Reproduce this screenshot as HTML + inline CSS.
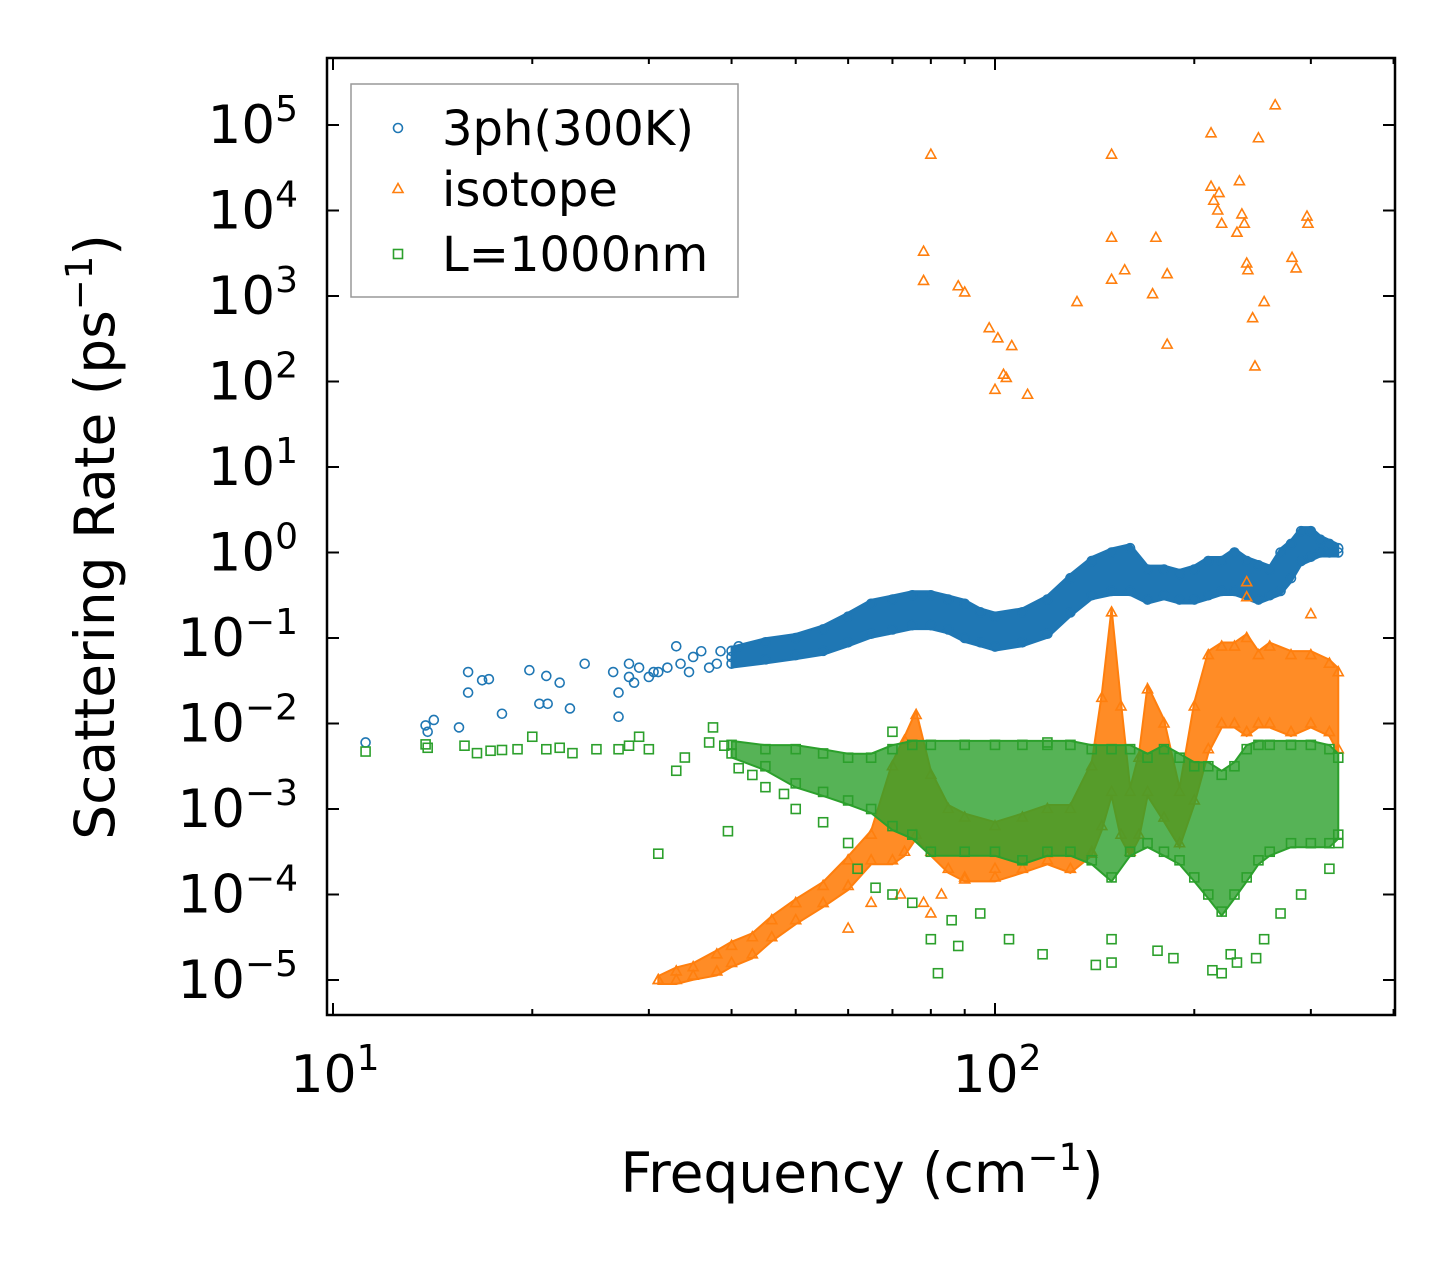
<!DOCTYPE html>
<html><head><meta charset="utf-8"><style>
body{margin:0;background:#fff;}
svg text{font-family:"DejaVu Sans","Liberation Sans",sans-serif;fill:#000;}
</style></head><body>
<svg id="chart" width="1455" height="1265" viewBox="0 0 1455 1265">
<g id="plot"></g>
</svg>
<script>
// ===== data (frequency in cm^-1, rates in log10 ps^-1 for bands) =====
const blueBandFreq=[40,45,50,55,60,65,70,75,80,85,90,95,100,110,120,130,140,150,160,170,180,190,200,210,220,230,240,250,260,270,280,290,300,310,320,330];
const blueBandHi=[-1.15,-1.05,-1,-0.9,-0.75,-0.6,-0.55,-0.5,-0.5,-0.55,-0.6,-0.7,-0.75,-0.7,-0.55,-0.3,-0.1,0,0.05,-0.2,-0.2,-0.25,-0.2,-0.1,-0.1,0,-0.1,-0.15,-0.2,0,0.1,0.25,0.25,0.15,0.1,0.05];
const blueBandLo=[-1.3,-1.25,-1.2,-1.15,-1.05,-0.95,-0.9,-0.85,-0.85,-0.9,-1.0,-1.05,-1.1,-1.05,-0.95,-0.7,-0.5,-0.45,-0.45,-0.55,-0.5,-0.55,-0.55,-0.5,-0.45,-0.45,-0.5,-0.55,-0.5,-0.45,-0.3,-0.1,-0.05,0,0,0];
const blueFreq=[11.2,13.8,13.9,14.2,15.5,16,16,16.8,17.2,18,19.8,20.5,21,21.1,22,22.8,24,26.5,27,27,28,28.5,28,29,30,30.5,31,32,33,33.5,34.5,35,36,37,38,38.5,40,41];
const blueRate=[0.006,0.0095,0.008,0.011,0.009,0.04,0.023,0.032,0.033,0.013,0.042,0.017,0.036,0.017,0.03,0.015,0.05,0.04,0.012,0.023,0.05,0.03,0.035,0.045,0.035,0.04,0.04,0.045,0.08,0.05,0.04,0.06,0.07,0.045,0.05,0.07,0.06,0.08];

const orangeBandFreq=[31,33,35,38,40,43,46,50,55,60,65,70,73,76,80,85,90,100,110,120,130,140,145,150,155,160,165,170,180,190,200,210,220,230,240,250,260,280,300,320,330];
const orangeBandHi=[-5,-4.9,-4.85,-4.7,-4.6,-4.5,-4.3,-4.1,-3.9,-3.6,-3.3,-2.5,-2.2,-1.9,-2.6,-3,-3.1,-3.2,-3.1,-3,-3,-2.5,-1.7,-0.7,-1.8,-2.8,-2.4,-1.6,-2.0,-2.8,-1.8,-1.2,-1.1,-1.1,-1.0,-1.2,-1.1,-1.2,-1.2,-1.3,-1.4];
const orangeBandLo=[-5,-5,-4.95,-4.9,-4.8,-4.7,-4.5,-4.3,-4.1,-3.9,-3.6,-3.6,-3.5,-3.3,-3.5,-3.7,-3.8,-3.8,-3.7,-3.6,-3.7,-3.5,-3.2,-2.8,-3.3,-3.5,-3.3,-2.8,-3.1,-3.4,-2.9,-2.3,-2.0,-2.0,-2.1,-2.0,-2.0,-2.1,-2.0,-2.1,-2.3];
const orangeFreq=[78,78,80,88,90,98,100,101,103,104,106,112,133,150,150,150,157,173,175,182,182,212,212,214,217,218,220,232,234,236,238,240,241,245,247,250,255,265,281,285,296,297,240,240,300,60,65,80,83,90,100,120,140,72,78];
const orangeRate=[3300,1500,45000,1300,1100,420,80,320,120,110,260,70,850,45000,4800,1550,2000,1050,4800,270,1800,80000,19000,13000,10000,16000,7000,5500,22000,9000,7000,2400,2000,550,150,70000,850,170000,2800,2100,8500,7000,0.45,0.3,0.19,4e-5,8e-5,6e-5,1e-4,1.5e-4,2e-4,3e-4,3e-4,1e-4,8e-5];

const greenBandFreq=[40,45,50,55,60,65,70,75,80,90,100,110,120,130,140,150,160,170,180,190,200,210,220,230,240,250,260,280,300,320,330];
const greenBandHi=[-2.25,-2.3,-2.3,-2.35,-2.4,-2.4,-2.3,-2.25,-2.25,-2.25,-2.25,-2.25,-2.25,-2.25,-2.3,-2.3,-2.3,-2.4,-2.3,-2.4,-2.5,-2.5,-2.6,-2.5,-2.3,-2.25,-2.25,-2.25,-2.25,-2.3,-2.4];
const greenBandLo=[-2.35,-2.5,-2.7,-2.8,-2.9,-3.0,-3.2,-3.3,-3.5,-3.5,-3.5,-3.6,-3.5,-3.5,-3.6,-3.8,-3.5,-3.4,-3.5,-3.6,-3.8,-4.0,-4.2,-4.0,-3.8,-3.6,-3.5,-3.4,-3.4,-3.4,-3.3];
const greenFreq=[11.2,13.8,13.9,15.8,16.5,17.3,18,19,20,21,22,23,25,27,28,29,30,31,33,34,37,37.5,39,39.5,41,43,45,48,50,55,60,62,66,70,75,80,82,86,88,95,105,118,142,150,150,176,186,213,220,227,232,248,255,270,290,320,330,120,70];
const greenRate=[0.0047,0.0057,0.0052,0.0055,0.0045,0.0048,0.0049,0.005,0.007,0.005,0.0052,0.0045,0.005,0.005,0.0055,0.007,0.005,0.0003,0.0028,0.004,0.006,0.009,0.0055,0.00055,0.003,0.0025,0.0018,0.0015,0.001,0.0007,0.0004,0.0002,0.00012,0.0001,0.00008,0.00003,0.000012,0.00005,0.000025,0.00006,0.00003,0.00002,0.000015,0.000016,0.00003,0.000022,0.000018,0.000013,0.000012,0.00002,0.000016,0.000018,0.00003,0.00006,0.0001,0.0002,0.0004,0.006,0.008];

const yTickExps=[5,4,3,2,1,0,-1,-2,-3,-4,-5];
const xTickExps=[1,2];

// ===== axes =====
const L=327,R=1395,T=58,B=1015;
const xLogMin=1+(L-333)/662, xLogMax=1+(R-333)/662;
const yLogMax=5+(125-T)/85.5, yLogMin=-5-(B-980)/85.5;
const X=f=>L+(Math.log10(f)-xLogMin)/(xLogMax-xLogMin)*(R-L);
const Yl=l=>B-(l-yLogMin)/(yLogMax-yLogMin)*(B-T);
const Y=v=>Yl(Math.log10(v));
const NS='http://www.w3.org/2000/svg';
const svg=document.getElementById('chart');
function mk(tag,attrs,parent){const e=document.createElementNS(NS,tag);for(const k in attrs)e.setAttribute(k,attrs[k]);(parent||svg).appendChild(e);return e;}

const C={b:'#1f77b4',o:'#ff7f0e',g:'#2ca02c'};
const clip=mk('clipPath',{id:'pc'});mk('rect',{x:L,y:T,width:R-L,height:B-T},clip);
const plot=mk('g',{'clip-path':'url(#pc)'});



function circle(x,y,c,g){return mk('circle',{cx:x,cy:y,r:4.5,fill:'none',stroke:c,'stroke-width':1.6},g);}
function tri(x,y,c,g){return mk('path',{d:`M${x},${y-5.5}L${x+5},${y+3.5}L${x-5},${y+3.5}Z`,fill:'none',stroke:c,'stroke-width':1.6},g);}
function sq(x,y,c,g){return mk('rect',{x:x-4.5,y:y-4.5,width:9,height:9,fill:'none',stroke:c,'stroke-width':1.6},g);}

function band(freq,hi,lo,c,marker,name,op){
  const g=mk('g',{},plot);
  
  
  let d='';
  freq.forEach((f,i)=>{d+=(i?'L':'M')+X(f)+','+(Yl(hi[i])-4);});
  for(let i=freq.length-1;i>=0;i--)d+='L'+X(freq[i])+','+(Yl(lo[i])+4);
  mk('path',{d:d+'Z',fill:c,'fill-opacity':op,stroke:c,'stroke-width':2},g);
  freq.forEach((f,i)=>{marker(X(f),Yl(hi[i]),c,g);marker(X(f),Yl(lo[i]),c,g);});
}
function scatter(freq,rate,c,marker,name){
  const g=mk('g',{},plot);
  
  
  freq.forEach((f,i)=>marker(X(f),Y(rate[i]),c,g));
}
band(blueBandFreq,blueBandHi,blueBandLo,C.b,circle,'series-3ph-band',1);
scatter(blueFreq,blueRate,C.b,circle,'series-3ph-points');
band(orangeBandFreq,orangeBandHi,orangeBandLo,C.o,tri,'series-isotope-band',0.9);
scatter(orangeFreq,orangeRate,C.o,tri,'series-isotope-points');
band(greenBandFreq,greenBandHi,greenBandLo,C.g,sq,'series-boundary-band',0.8);
scatter(greenFreq,greenRate,C.g,sq,'series-boundary-points');

// frame
const frame=mk('rect',{x:L,y:T,width:R-L,height:B-T,fill:'none',stroke:'#000','stroke-width':2.5});



// ticks
const tg=mk('g',{stroke:'#000','stroke-width':2});


yTickExps.forEach(e=>{const y=Yl(e);mk('line',{x1:L,x2:L+12,y1:y,y2:y},tg);mk('line',{x1:R,x2:R-12,y1:y,y2:y},tg);
  const t=mk('text',{x:298,y:y+18,'text-anchor':'end','font-size':53});
  
  
  t.innerHTML='10<tspan dy="-22" font-size="36">'+(e<0?'\u2212'+(-e):e)+'</tspan>';});
for(let d=1;d<=2;d++)for(let m=1;m<=9;m++){const f=m*Math.pow(10,d);const x=X(f);if(x<L||x>R)continue;const len=m===1?12:6;
  mk('line',{x1:x,x2:x,y1:B,y2:B-len},tg);mk('line',{x1:x,x2:x,y1:T,y2:T+len},tg);}
xTickExps.forEach(e=>{const x=X(Math.pow(10,e));const t=mk('text',{x:x+2,y:1092,'text-anchor':'middle','font-size':52});
  
  
  t.innerHTML='10<tspan dy="-22" font-size="36">'+e+'</tspan>';});

// axis titles
const xt=mk('text',{x:862,y:1192,'text-anchor':'middle','font-size':55});


xt.innerHTML='Frequency (cm<tspan dy="-22" font-size="37">\u22121</tspan><tspan dy="22">)</tspan>';
const yt=mk('text',{x:0,y:0,'text-anchor':'middle','font-size':55,transform:'translate(114,537) rotate(-90)'});


yt.innerHTML='Scattering Rate (ps<tspan dy="-22" font-size="37">\u22121</tspan><tspan dy="22">)</tspan>';

// legend
const lg=mk('g',{});


mk('rect',{x:351,y:84,width:387,height:213,fill:'#fff',stroke:'#999','stroke-width':1.5},lg);
const items=[['3ph(300K)',C.b,circle,128],['isotope',C.o,tri,189],['L=1000nm',C.g,sq,254]];
items.forEach(it=>{const g=mk('g',{},lg);
  
  
  it[2](398,it[3],it[1],g);
  const t=mk('text',{x:442,y:it[3]+17,'font-size':48},g);t.textContent=it[0];});
</script>
</body></html>
